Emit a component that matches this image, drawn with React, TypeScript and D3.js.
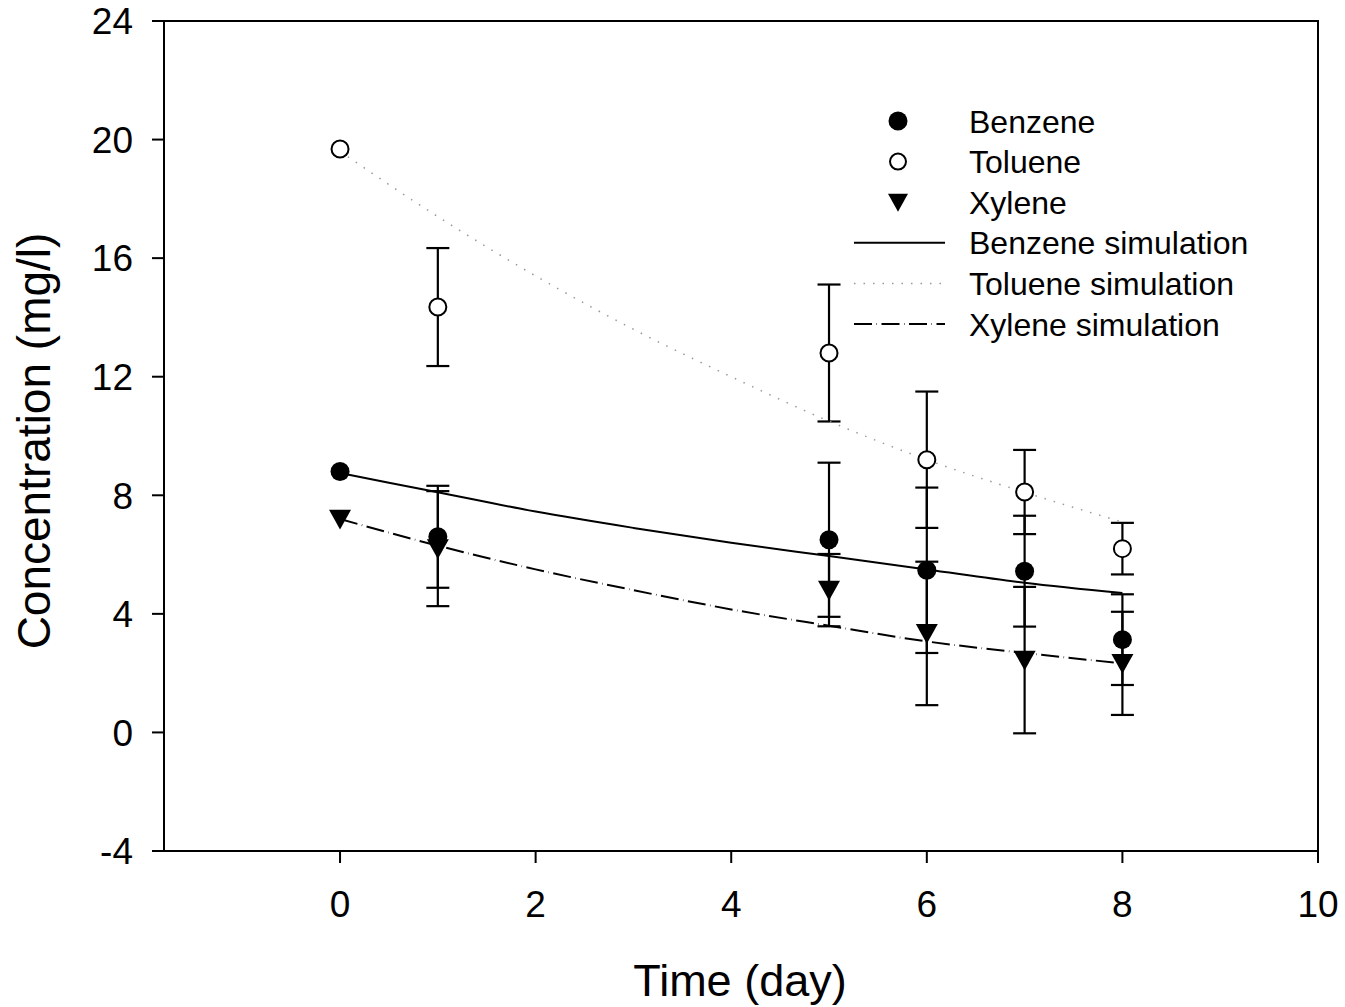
import React from "react";
import * as d3 from "d3";

const days = [0, 1, 5, 6, 7, 8];
const benzene = [8.8, 6.6, 6.5, 5.47, 5.44, 3.13];
const benzeneErr = [0, 1.72, 2.6, 2.79, 1.87, 1.53];
const toluene = [19.68, 14.35, 12.8, 9.2, 8.11, 6.2];
const tolueneErr = [0, 1.99, 2.31, 2.3, 1.42, 0.87];
const xylene = [7.2, 6.2, 4.8, 3.34, 2.44, 2.33];
const xyleneErr = [0, 1.94, 1.22, 2.42, 2.47, 1.74];

const simDays = [0, 1, 2, 3, 4, 5, 6, 7, 8];
const benzeneSim = [8.75, 8.1, 7.45, 6.9, 6.4, 5.95, 5.5, 5.05, 4.7];
const tolueneSim = [19.6, 17.4, 15.4, 13.6, 12.0, 10.5, 9.2, 8.1, 7.1];
const xyleneSim = [7.2, 6.3, 5.5, 4.8, 4.15, 3.6, 3.07, 2.68, 2.33];

const xTicks = [0, 2, 4, 6, 8, 10];
const yTicks = [-4, 0, 4, 8, 12, 16, 20, 24];

const legendItems = [
  { label: "Benzene", kind: "filled" },
  { label: "Toluene", kind: "open" },
  { label: "Xylene", kind: "tri" },
  { label: "Benzene simulation", kind: "solid" },
  { label: "Toluene simulation", kind: "dot" },
  { label: "Xylene simulation", kind: "dash" },
];

const W = 1345, H = 1007;
const L = 164, R = 1318, T = 21, B = 851;
const font = "'Liberation Sans', Arial, sans-serif";

const solidDash = undefined;
const dotDash = "1.5,8";
const dashDash = "18,4.5,0.5,4.5";

export default function App() {
  const x = d3.scaleLinear().domain([-1.8, 10]).range([L, R]);
  const y = d3.scaleLinear().domain([-4, 24]).range([B, T]);
  const line = d3
    .line<number>()
    .x((_, i) => x(simDays[i]))
    .y((d) => y(d))
    .curve(d3.curveMonotoneX);

  const tri = (cx: number, cy: number, s = 11) =>
    `M${cx - s},${cy - s * 0.85} L${cx + s},${cy - s * 0.85} L${cx},${cy + s * 0.95} Z`;

  const errBars = (vals: number[], errs: number[], key: string) =>
    days.map((dd, i) =>
      errs[i] > 0 ? (
        <g key={key + i} stroke="#000" strokeWidth={2.2}>
          <line x1={x(dd)} x2={x(dd)} y1={y(vals[i] + errs[i])} y2={y(vals[i] - errs[i])} />
          <line x1={x(dd) - 11.5} x2={x(dd) + 11.5} y1={y(vals[i] + errs[i])} y2={y(vals[i] + errs[i])} />
          <line x1={x(dd) - 11.5} x2={x(dd) + 11.5} y1={y(vals[i] - errs[i])} y2={y(vals[i] - errs[i])} />
        </g>
      ) : null
    );

  const legX = 898, legTextX = 969, legY0 = 121, legDy = 40.6;

  return (
    <svg width={W} height={H} style={{ position: "absolute", left: 0, top: 0, background: "#fff" }} fontFamily={font}>
      <rect x={0} y={0} width={W} height={H} fill="#fff" />
      <rect x={L} y={T} width={R - L} height={B - T} fill="none" stroke="#000" strokeWidth={2} />
      {yTicks.map((t) => (
        <g key={"y" + t}>
          <line x1={L - 12} x2={L} y1={y(t)} y2={y(t)} stroke="#000" strokeWidth={2} />
          <text x={133} y={y(t)} dy="0.36em" textAnchor="end" fontSize={37}>
            {t}
          </text>
        </g>
      ))}
      {xTicks.map((t) => (
        <g key={"x" + t}>
          <line x1={x(t)} x2={x(t)} y1={B} y2={B + 12} stroke="#000" strokeWidth={2} />
          <text x={x(t)} y={917} textAnchor="middle" fontSize={37}>
            {t}
          </text>
        </g>
      ))}
      <text x={740} y={996} textAnchor="middle" fontSize={45}>
        Time (day)
      </text>
      <text transform={`translate(50,441) rotate(-90)`} textAnchor="middle" fontSize={46}>
        Concentration (mg/l)
      </text>

      {errBars(toluene, tolueneErr, "te")}
      {errBars(benzene, benzeneErr, "be")}
      {errBars(xylene, xyleneErr, "xe")}

      <path d={line(benzeneSim) || ""} fill="none" stroke="#000" strokeWidth={2} />
      <path d={line(tolueneSim) || ""} fill="none" stroke="#999" strokeWidth={1.5} strokeDasharray={dotDash} />
      <path d={line(xyleneSim) || ""} fill="none" stroke="#000" strokeWidth={2} strokeDasharray={dashDash} />

      {days.map((dd, i) => (
        <circle key={"t" + i} cx={x(dd)} cy={y(toluene[i])} r={8.5} fill="#fff" stroke="#000" strokeWidth={2} />
      ))}
      {days.map((dd, i) => (
        <circle key={"b" + i} cx={x(dd)} cy={y(benzene[i])} r={9.5} fill="#000" />
      ))}
      {days.map((dd, i) => (
        <path key={"x" + i} d={tri(x(dd), y(xylene[i]))} fill="#000" />
      ))}

      {legendItems.map((it, i) => {
        const cy = legY0 + i * legDy;
        let sym: React.ReactNode = null;
        if (it.kind === "filled") sym = <circle cx={legX} cy={cy} r={9.5} fill="#000" />;
        else if (it.kind === "open") sym = <circle cx={legX} cy={cy} r={8} fill="#fff" stroke="#000" strokeWidth={2} />;
        else if (it.kind === "tri") sym = <path d={tri(legX, cy, 10)} fill="#000" />;
        else {
          const stroke = it.kind === "dot" ? "#999" : "#000";
          const dash = it.kind === "solid" ? solidDash : it.kind === "dot" ? dotDash : dashDash;
          sym = (
            <line x1={854} x2={945} y1={cy} y2={cy} stroke={stroke} strokeWidth={it.kind === "dot" ? 1.5 : 2} strokeDasharray={dash} />
          );
        }
        return (
          <g key={"l" + i}>
            {sym}
            <text x={legTextX} y={cy} dy="0.36em" fontSize={32}>
              {it.label}
            </text>
          </g>
        );
      })}
    </svg>
  );
}
